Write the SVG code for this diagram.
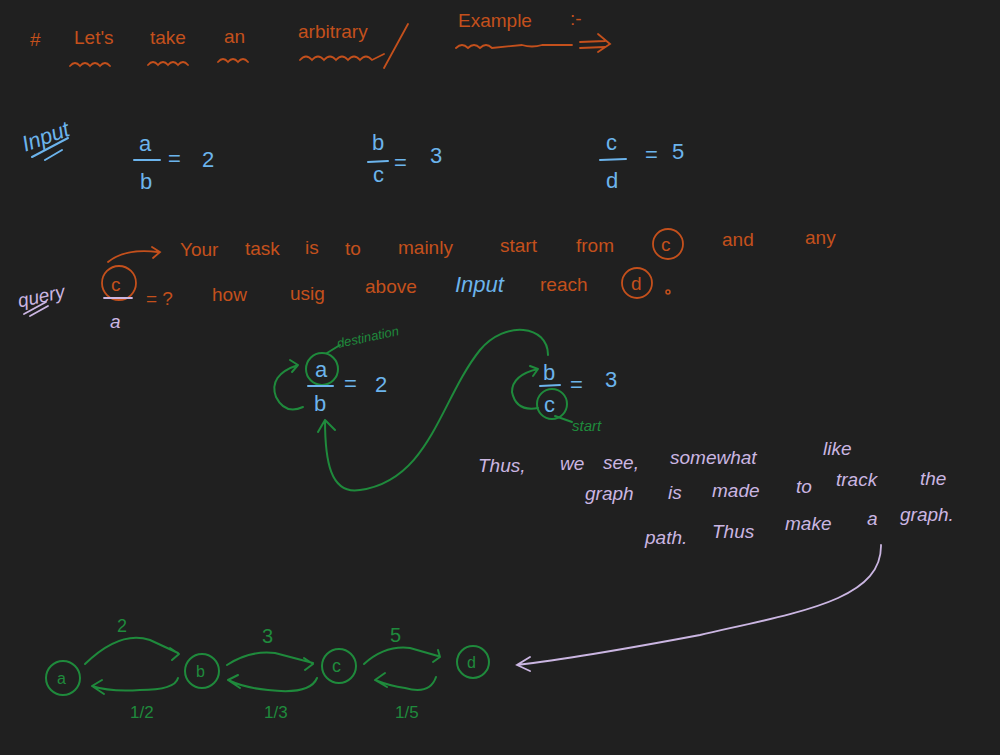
<svg xmlns="http://www.w3.org/2000/svg" width="1000" height="755" viewBox="0 0 1000 755">
<defs>
<style>
text{font-family:"Liberation Sans","DejaVu Sans",sans-serif;}
.or{fill:#c4501c;font-size:19px;}
.bl{fill:#6cb4ec;font-size:22px;}
.gr{fill:#1f8a3c;}
.lv{fill:#cbb6e2;font-size:19px;font-style:italic;}
.so{stroke:#c4501c;fill:none;stroke-width:1.8;stroke-linecap:round;}
.sb{stroke:#6cb4ec;fill:none;stroke-width:2;stroke-linecap:round;}
.sg{stroke:#1f8a3c;fill:none;stroke-width:2;stroke-linecap:round;stroke-linejoin:round;}
.sl{stroke:#cbb6e2;fill:none;stroke-width:1.8;stroke-linecap:round;}
</style>
</defs>
<rect width="1000" height="755" fill="#202020"/>

<g id="title">
<text class="or" x="30" y="46" font-size="22">#</text>
<text class="or" x="74" y="44">Let's</text>
<text class="or" x="150" y="44">take</text>
<text class="or" x="224" y="43">an</text>
<text class="or" x="298" y="38">arbitrary</text>
<text class="or" x="458" y="27">Example</text>
<text class="or" x="570" y="25">:-</text>
<path class="so" d="M70,66 q5,-6 10,0 q5,-6 10,0 q5,-6 10,0 q5,-6 10,0 M148,65 q5,-6 10,0 q5,-6 10,0 q5,-6 10,0 q5,-6 10,0 M218,62 q5,-6 10,0 q5,-6 10,0 q5,-6 10,0 M300,60 q6,-7 12,0 q6,-7 12,0 q6,-7 12,0 q6,-7 12,0 q6,-7 12,0 q6,-7 12,0 l12,-6 M408,24 L384,68 M456,48 q6,-6 12,0 q6,-6 12,0 q6,-6 12,0 l30,-3 q10,3 20,0 l30,0 M580,42 L605,41 M580,48 L605,47 M598,34 L610,44 L598,52"/>
</g>

<g id="input">
<text class="bl" x="22" y="146" font-size="17" font-style="italic" transform="rotate(-20 40 140)">Input</text>
<path class="sb" d="M32,157 L68,138 M45,160 L62,150"/>
</g>

<g id="eq1">
<text class="bl" x="139" y="151">a</text>
<path class="sb" d="M134,160 L160,160"/>
<text class="bl" x="140" y="189">b</text>
<text class="bl" x="168" y="166">=</text>
<text class="bl" x="202" y="167" font-size="26">2</text>
</g>
<g id="eq2">
<text class="bl" x="372" y="150">b</text>
<path class="sb" d="M368,162 L388,161"/>
<text class="bl" x="373" y="182">c</text>
<text class="bl" x="394" y="170">=</text>
<text class="bl" x="430" y="163" font-size="26">3</text>
</g>
<g id="eq3">
<text class="bl" x="606" y="150">c</text>
<path class="sb" d="M600,160 L626,159"/>
<text class="bl" x="606" y="188">d</text>
<text class="bl" x="645" y="162">=</text>
<text class="bl" x="672" y="159" font-size="24">5</text>
</g>

<g id="query">
<text class="lv" x="18" y="305" font-size="16" transform="rotate(-12 30 300)">query</text>
<path class="sl" d="M24,314 L46,302 M30,316 L48,306"/>
<circle cx="119" cy="283" r="17" stroke="#c4501c" fill="none" stroke-width="1.8"/>
<text class="or" x="111" y="291" font-size="22">c</text>
<path class="sl" d="M104,298 L132,298"/>
<text class="lv" x="110" y="328" font-size="20" font-style="normal">a</text>
<text class="or" x="146" y="305" font-size="20">= ?</text>
<path class="so" d="M108,262 Q125,248 158,252 M152,247 L160,252 L153,258"/>
<text class="or" x="180" y="256">Your</text>
<text class="or" x="245" y="255">task</text>
<text class="or" x="305" y="254">is</text>
<text class="or" x="345" y="255">to</text>
<text class="or" x="398" y="254">mainly</text>
<text class="or" x="500" y="252">start</text>
<text class="or" x="576" y="252">from</text>
<circle cx="668" cy="244" r="15" stroke="#c4501c" fill="none" stroke-width="1.8"/>
<text class="or" x="661" y="251">c</text>
<text class="or" x="722" y="246">and</text>
<text class="or" x="805" y="244">any</text>
<text class="or" x="212" y="301">how</text>
<text class="or" x="290" y="300">usig</text>
<text class="or" x="365" y="293">above</text>
<text class="bl" x="455" y="292" font-size="19" font-style="italic">Input</text>
<text class="or" x="540" y="291">reach</text>
<circle cx="637" cy="283" r="15" stroke="#c4501c" fill="none" stroke-width="1.8"/>
<text class="or" x="631" y="290">d</text>
<circle cx="668" cy="292" r="2" stroke="#c4501c" fill="none" stroke-width="1.5"/>
</g>

<g id="mid-a">
<circle cx="322" cy="369" r="16" stroke="#1f8a3c" fill="none" stroke-width="2"/>
<text class="bl" x="315" y="377">a</text>
<path class="sb" d="M308,386 L333,386"/>
<text class="bl" x="314" y="411">b</text>
<text class="bl" x="344" y="391">=</text>
<text class="bl" x="375" y="392" font-size="26">2</text>
<path class="sg" d="M327,353 L340,345"/>
<text class="gr" x="338" y="348" font-size="13" font-style="italic" transform="rotate(-12 338 348)">destination</text>
<path class="sg" d="M303,407 Q285,415 276,397 Q268,375 298,365 M290,360 L298,365 L292,372"/>
</g>

<g id="mid-b">
<text class="bl" x="543" y="380">b</text>
<path class="sb" d="M540,386 L560,385"/>
<circle cx="552" cy="404" r="15" stroke="#1f8a3c" fill="none" stroke-width="2"/>
<text class="bl" x="544" y="412">c</text>
<text class="bl" x="570" y="392">=</text>
<text class="bl" x="605" y="387" font-size="26">3</text>
<path class="sg" d="M538,408 Q516,412 512,392 Q512,375 538,369 M530,366 L538,369 L533,376"/>
<path class="sg" d="M555,416 L572,422"/>
<text class="gr" x="572" y="431" font-size="15" font-style="italic">start</text>
</g>

<g id="connectors">
<path class="sg" d="M548,355 C548,325 505,320 480,350 C440,400 430,480 360,490 C330,495 325,460 325,420 M318,432 L325,420 L335,430"/>
<path class="sl" d="M881,545 C882,600 800,612 700,635 C620,650 560,660 517,665 M530,657 L517,665 L530,671"/>
</g>

<g id="note">
<text class="lv" x="478" y="472">Thus,</text>
<text class="lv" x="560" y="470">we</text>
<text class="lv" x="603" y="469">see,</text>
<text class="lv" x="670" y="464">somewhat</text>
<text class="lv" x="823" y="455">like</text>
<text class="lv" x="585" y="500">graph</text>
<text class="lv" x="668" y="499">is</text>
<text class="lv" x="712" y="497">made</text>
<text class="lv" x="796" y="493">to</text>
<text class="lv" x="836" y="486">track</text>
<text class="lv" x="920" y="485">the</text>
<text class="lv" x="645" y="544">path.</text>
<text class="lv" x="712" y="538">Thus</text>
<text class="lv" x="785" y="530">make</text>
<text class="lv" x="867" y="525">a</text>
<text class="lv" x="900" y="521">graph.</text>
</g>

<g id="node-a"><circle cx="63" cy="678" r="17" stroke="#1f8a3c" fill="none" stroke-width="2"/><text class="gr" x="57" y="684" font-size="16">a</text></g>
<g id="node-b"><circle cx="202" cy="671" r="17" stroke="#1f8a3c" fill="none" stroke-width="2"/><text class="gr" x="196" y="677" font-size="16">b</text></g>
<g id="node-c"><circle cx="339" cy="666" r="17" stroke="#1f8a3c" fill="none" stroke-width="2"/><text class="gr" x="332" y="672" font-size="18">c</text></g>
<g id="node-d"><circle cx="473" cy="662" r="16" stroke="#1f8a3c" fill="none" stroke-width="2"/><text class="gr" x="467" y="668" font-size="16">d</text></g>

<g id="edges">
<path class="sg" d="M85,664 Q120,630 150,640 L178,653 M170,648 L179,654 L172,660"/>
<text class="gr" x="117" y="632" font-size="18">2</text>
<path class="sg" d="M178,678 Q175,690 140,690 Q110,692 92,686 M102,680 L92,686 L104,694"/>
<text class="gr" x="130" y="718" font-size="17">1/2</text>
<path class="sg" d="M227,665 Q250,650 275,653 L313,663 M304,658 L313,664 L305,670"/>
<text class="gr" x="262" y="643" font-size="20">3</text>
<path class="sg" d="M317,678 Q310,695 268,690 Q245,688 228,680 M238,675 L228,680 L240,688"/>
<text class="gr" x="264" y="718" font-size="17">1/3</text>
<path class="sg" d="M364,664 Q385,645 410,648 L438,656 M438,650 L440,657 L433,662"/>
<text class="gr" x="390" y="642" font-size="20">5</text>
<path class="sg" d="M436,677 Q430,695 405,688 Q390,686 375,680 M385,673 L375,680 L387,687"/>
<text class="gr" x="395" y="718" font-size="17">1/5</text>
</g>
</svg>
